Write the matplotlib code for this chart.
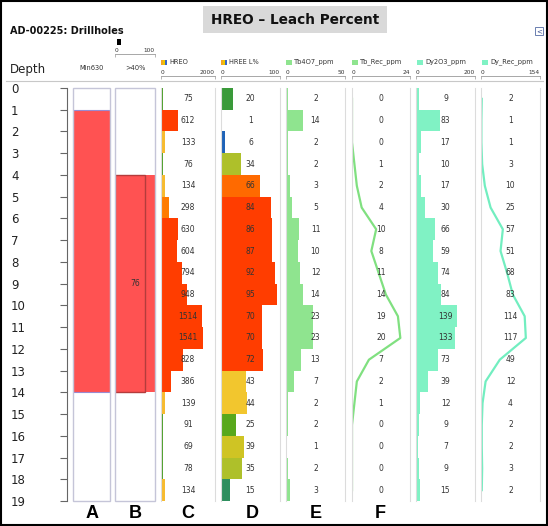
import matplotlib.pyplot as plt
from matplotlib.patches import Rectangle
from matplotlib.transforms import blended_transform_factory

# Bohrloch AD-00225, Intervalle 0-19 m
depth_from = list(range(0, 19))
depth_ticks = list(range(0, 20))

hreo = [75, 612, 133, 76, 134, 298, 630, 604, 794, 948, 1514, 1541, 828, 386, 139, 91, 69, 78, 134]
hree_l = [20, 1, 6, 34, 66, 84, 86, 87, 92, 95, 70, 70, 72, 43, 44, 25, 39, 35, 15]
tb4o7 = [2, 14, 2, 2, 3, 5, 11, 10, 12, 14, 23, 23, 13, 7, 2, 2, 1, 2, 3]
tb_rec = [0, 0, 0, 1, 2, 4, 10, 8, 11, 14, 19, 20, 7, 2, 1, 0, 0, 0, 0]
dy2o3 = [9, 83, 17, 10, 17, 30, 66, 59, 74, 84, 139, 133, 73, 39, 12, 9, 7, 9, 15]
dy_rec = [2, 1, 1, 3, 10, 25, 57, 51, 68, 83, 114, 117, 49, 12, 4, 2, 2, 3, 2]

min630_from, min630_to = 1, 14
gt40_from, gt40_to = 4, 14
gt40_value = 76

col_letters = ["A", "B", "C", "D", "E", "F"]

W, H = 548, 526
TOP, BOT = 88, 501
RED = "#ff5252"

fig = plt.figure(figsize=(W / 100, H / 100), dpi=100)


def box(x0, y0, x1, y1):
    return [x0 / W, 1 - y1 / H, (x1 - x0) / W, (y1 - y0) / H]


def fx(x):
    return x / W


def fy(y):
    return 1 - y / H


def hreo_color(v):
    if v < 100:
        return "#4ea02a"
    if v < 200:
        return "#f7bb2f"
    if v < 350:
        return "#ff7b00"
    return "#ff3d00"


def hree_color(v):
    if v < 3:
        return "#9db4e8"
    if v < 10:
        return "#1f63b8"
    if v < 18:
        return "#2f8f5f"
    if v < 23:
        return "#3a9a3a"
    if v < 30:
        return "#58a81c"
    if v < 37:
        return "#aec02a"
    if v < 42:
        return "#cfc424"
    if v < 60:
        return "#f2c62e"
    if v < 68:
        return "#ff6a00"
    return "#ff3d00"


mids = [d + 0.5 for d in depth_from]


def column(x0, x1, xmax, outward=12):
    ax = fig.add_axes(box(x0, TOP, x1, BOT))
    ax.set_xlim(0, xmax)
    ax.set_ylim(19, 0)
    ax.set_yticks([])
    ax.patch.set_alpha(0)
    ax.spines["bottom"].set_visible(False)
    for s in ["left", "right"]:
        ax.spines[s].set_color("#dcdcdc")
        ax.spines[s].set_linewidth(0.8)
    # Skala oben
    ax.spines["top"].set_position(("outward", outward * 0.72))
    ax.spines["top"].set_color("#999999")
    ax.spines["top"].set_linewidth(0.6)
    ax.xaxis.tick_top()
    ax.set_xticks([0, xmax])
    ax.set_xticklabels(["0", str(xmax)])
    ax.tick_params(axis="x", direction="in", length=2, width=0.5, colors="#999999",
                   labelcolor="#333333", labelsize=4.2, pad=1)
    lbls = ax.get_xticklabels()
    lbls[0].set_ha("left")
    lbls[-1].set_ha("right")
    return ax


def values(ax, vals):
    tr = blended_transform_factory(ax.transAxes, ax.transData)
    for m, v in zip(mids, vals):
        ax.text(0.5, m, str(v), transform=tr, ha="center", va="center",
                fontsize=5.5, color="#333333")


# Tiefenachse
axd = fig.add_axes(box(11, TOP, 67, BOT))
axd.set_ylim(19, 0)
axd.set_xticks([])
axd.patch.set_alpha(0)
for s in ["left", "top", "bottom"]:
    axd.spines[s].set_visible(False)
axd.spines["right"].set_color("#666666")
axd.set_yticks(depth_ticks)
axd.tick_params(axis="y", left=False, right=True, labelleft=True, labelright=False,
                direction="in", length=5, width=0.8, colors="#666666",
                labelcolor="#222222", labelsize=8.5, pad=0)
for lbl in axd.get_yticklabels():
    lbl.set_ha("left")

# Spalte A (Min630)
axa = fig.add_axes(box(73, TOP, 110, BOT))
axa.set_xlim(0, 1)
axa.set_ylim(19, 0)
axa.axis("off")
axa.barh((min630_from + min630_to) / 2, 1, height=min630_to - min630_from,
         color=RED, edgecolor="#9a8ad0", linewidth=0.8)
axa.add_patch(Rectangle((0, 0), 1, 1, transform=axa.transAxes, fill=False,
                        ec="#c5c5d8", lw=1, clip_on=False))

# Spalte B (>40%)
axb = column(115, 155, 100, outward=34)
for s in ["left", "right"]:
    axb.spines[s].set_visible(False)
axb.barh((gt40_from + gt40_to) / 2, 100, height=gt40_to - gt40_from, color=RED)
axb.barh((gt40_from + gt40_to) / 2, gt40_value, height=gt40_to - gt40_from,
         fill=False, edgecolor="#b43c3c", linewidth=1)
axb.text(50, (gt40_from + gt40_to) / 2, str(gt40_value), ha="center", va="center",
         fontsize=5.5, color="#333333")
axb.add_patch(Rectangle((0, 0), 1, 1, transform=axb.transAxes, fill=False,
                        ec="#c5c5d8", lw=1, clip_on=False))

# Spalte C (HREO)
axc = column(161, 215, 2000)
axc.barh(mids, hreo, height=1, color=[hreo_color(v) for v in hreo])
values(axc, hreo)

# Spalte D (HREE L%)
axdd = column(221, 280, 100)
axdd.barh(mids, hree_l, height=1, color=[hree_color(v) for v in hree_l])
values(axdd, hree_l)

# Spalte E (Tb4O7)
axe = column(286, 345, 50)
axe.barh(mids, tb4o7, height=1, color="#8fe48f")
values(axe, tb4o7)

# Spalte F (Tb_Rec)
axf = column(352, 410, 24)
axf.plot(tb_rec, mids, color="#80e080", lw=1.6)
values(axf, tb_rec)

# Dy2O3
axg = column(416, 475, 200)
axg.barh(mids, dy2o3, height=1, color="#80f2c4")
values(axg, dy2o3)

# Dy_Rec
axh = column(481, 540, 154)
axh.plot(dy_rec, mids, color="#72eec0", lw=1.6)
values(axh, dy_rec)

# Titel und Kopfzeile
fig.add_artist(Rectangle((fx(203), fy(33)), fx(184), 27 / H, transform=fig.transFigure,
                         color="#d9d9d9", lw=0))
fig.text(fx(295), fy(19.5), "HREO \u2013 Leach Percent", ha="center", va="center",
         fontsize=9.8, fontweight="bold", color="#111111")
fig.text(fx(10), fy(31), "AD-00225: Drillholes", ha="left", va="center",
         fontsize=7, fontweight="bold", color="#111111")
fig.text(fx(10), fy(70), "Depth", ha="left", va="center", fontsize=8.5, color="#222222")
fig.text(fx(92), fy(68), "Min630", ha="center", va="center", fontsize=4.8, color="#333333")
fig.text(fx(135), fy(68), ">40%", ha="center", va="center", fontsize=4.8, color="#333333")
fig.add_artist(Rectangle((fx(117), fy(45)), fx(4), 6 / H, transform=fig.transFigure,
                         color="black", lw=0))
fig.add_artist(plt.Line2D([fx(6), fx(543)], [fy(81), fy(81)], transform=fig.transFigure,
                          color="#c8c8c8", lw=0.8))

# Legendenkästchen
for x0, name in [(161, "HREO"), (221, "HREE L%")]:
    for i, c in enumerate(["#f5a623", "#f0c800", "#3a66c4"]):
        fig.add_artist(Rectangle((fx(x0 + 2 * i), fy(65)), fx(2), 5 / H,
                                 transform=fig.transFigure, color=c, lw=0))
    fig.text(fx(x0 + 8), fy(62), name, ha="left", va="center", fontsize=4.8, color="#333333")
for x0, name, c in [(286, "Tb4O7_ppm", "#8fe48f"), (352, "Tb_Rec_ppm", "#8fe48f"),
                    (417, "Dy2O3_ppm", "#80f2c4"), (482, "Dy_Rec_ppm", "#80f2c4")]:
    fig.add_artist(Rectangle((fx(x0), fy(65)), fx(6), 5 / H,
                             transform=fig.transFigure, color=c, lw=0))
    fig.text(fx(x0 + 8), fy(62), name, ha="left", va="center", fontsize=4.8, color="#333333")

# Buchstaben unten
for x, letter in zip([92, 135, 188, 252, 316, 380], col_letters):
    fig.text(fx(x), fy(513), letter, ha="center", va="center", fontsize=13,
             fontweight="bold", family="Liberation Sans", color="black")

# kleines Symbol oben rechts
fig.add_artist(Rectangle((fx(535), fy(35)), fx(8), 8 / H, transform=fig.transFigure,
                         fill=False, ec="#6a7fb0", lw=0.7))
fig.text(fx(539), fy(31), "<", ha="center", va="center", fontsize=5, color="#3a4f90")

# Rahmen
fig.add_artist(Rectangle((0.002, 0.002), 0.996, 0.996, transform=fig.transFigure,
                         fill=False, ec="black", lw=1.5))

fig.savefig("out.png", dpi=100)
